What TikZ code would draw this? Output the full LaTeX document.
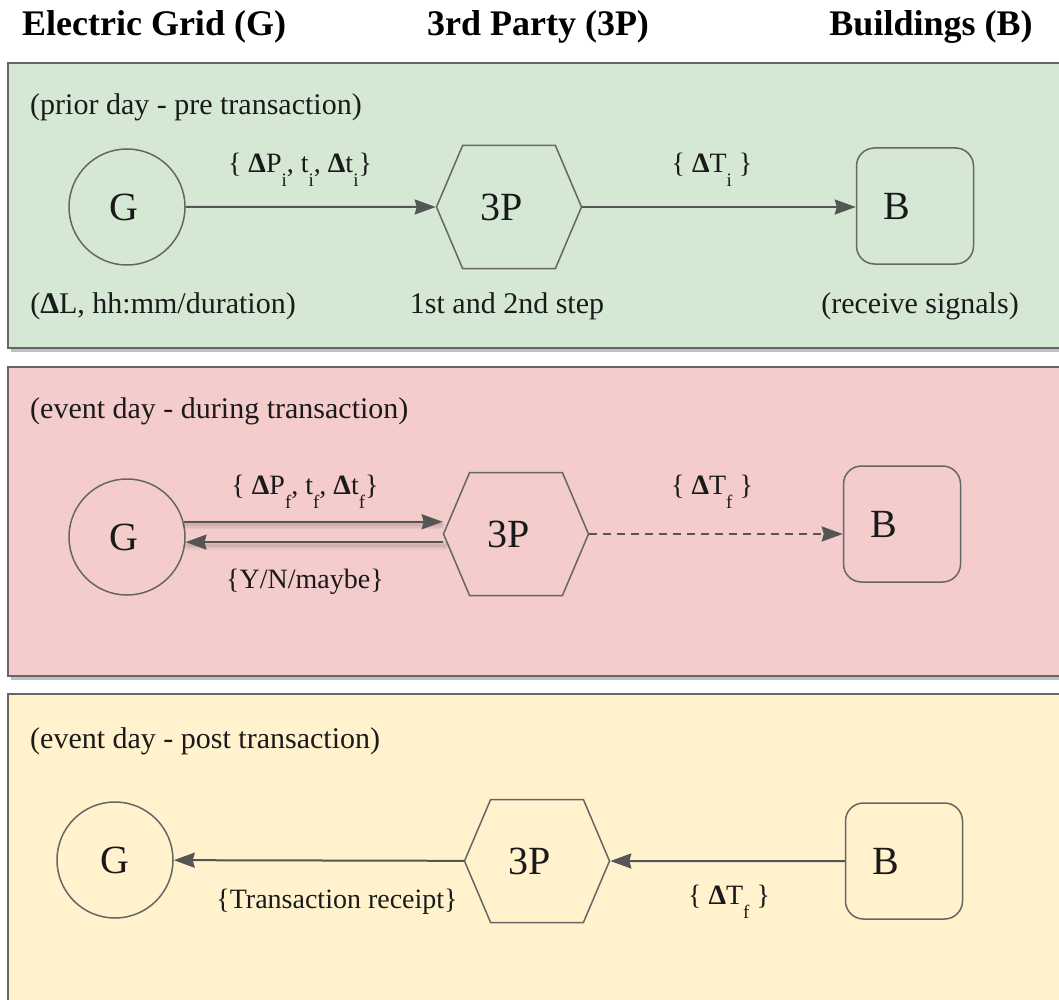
\documentclass[tikz,border=0pt]{standalone}
\usepackage{fontspec}
\setmainfont{LiberationSerif}[Extension=.ttf,UprightFont=*-Regular,BoldFont=*-Bold,ItalicFont=*-Italic,BoldItalicFont=*-BoldItalic]
\usetikzlibrary{arrows.meta,shapes.symbols}
\definecolor{greenfill}{HTML}{D5E8D4}
\definecolor{redfill}{HTML}{F4CCCC}
\definecolor{yellowfill}{HTML}{FFF2CC}
\definecolor{edgegray}{HTML}{666666}
\definecolor{linegray}{HTML}{555555}
\definecolor{txt}{HTML}{1A1A1A}
% lowered subscript and bold delta used in the signal labels
\newcommand{\lowsub}[1]{\raisebox{-1.05ex}{\fontsize{19}{19}\selectfont #1}}
\newcommand{\bDelta}{\textbf{Δ}}
\begin{document}
\begin{tikzpicture}[x=1pt,y=-1pt,
  panel/.style={draw=edgegray,line width=2pt},
  panelshadow/.style={fill=black,opacity=0.25},
  header/.style={font=\fontsize{36}{36}\selectfont\bfseries,text=black,inner sep=0pt},
  body/.style={font=\fontsize{30}{30}\selectfont,text=txt,inner sep=0pt},
  lbl/.style={font=\fontsize{28}{28}\selectfont,text=txt,inner sep=0pt},
  phase/.style={body,anchor=west},
  gnode/.style={circle,draw=edgegray,line width=1.5pt,minimum size=116pt,inner sep=0pt,
    font=\fontsize{40}{40}\selectfont,text=txt},
  pnode/.style={signal,signal to=west and east,signal pointer angle=134,draw=edgegray,
    line width=1.5pt,minimum width=145pt,minimum height=123pt,inner sep=0pt,
    font=\fontsize{40}{40}\selectfont,text=txt},
  bnode/.style={rectangle,rounded corners=18pt,draw=edgegray,line width=1.5pt,
    minimum width=117pt,minimum height=116pt,inner sep=0pt,
    font=\fontsize{40}{40}\selectfont,text=txt},
  conn/.style={draw=linegray,line width=2pt,-{Stealth[length=21pt,width=15pt,inset=2pt]}},
  connshadow/.style={draw=black,line cap=round},
]
\useasboundingbox (0,0) rectangle (1059,1000);

% column headers
\node[header] (hg) at (154,27) {Electric Grid (G)};
\node[header] (hp) at (538,27) {3rd Party (3P)};
\node[header] (hb) at (931,27) {Buildings (B)};

% phase panels
\fill[panelshadow] (11,66) rectangle (1075,352);
\draw[panel,fill=greenfill] (8,63) rectangle (1075,348);
\fill[panelshadow] (11,370) rectangle (1075,680);
\draw[panel,fill=redfill] (8,367) rectangle (1075,676);
\fill[panelshadow] (11,697) rectangle (1075,1020);
\draw[panel,fill=yellowfill] (8,694) rectangle (1075,1020);

% prior day
\node[phase] (t1) at (30,107) {(prior day - pre transaction)};
\node[gnode] (g1) at (127,207) {\kern-6pt G};
\node[pnode] (p1) at (509,207) {\kern-14pt 3P};
\node[bnode] (b1) at (915,206) {\kern-36pt B};
\draw[conn] (g1) -- (p1);
\draw[conn] (p1.east) -- (p1.east -| b1.west);
\node[lbl] (l1) at (300,170) {\{ \bDelta P\lowsub{i}, t\lowsub{i}, \bDelta t\lowsub{i}\}};
\node[lbl] (l2) at (712,170) {\{ \bDelta T\lowsub{i} \}};
\node[body] (c1) at (163,306) {(\bDelta L, hh:mm/duration)};
\node[body] (c2) at (507,306) {1st and 2nd step};
\node[body] (c3) at (920,306) {(receive signals)};

% event day, during
\node[phase] (t2) at (30,411) {(event day - during transaction)};
\node[gnode] (g2) at (127,537) {\kern-6pt G};
\node[pnode] (p2) at (516,534) {\kern-14pt 3P};
\node[bnode] (b2) at (902,524) {\kern-36pt B};
\foreach \w/\o in {9/0.04,6/0.05,3/0.06}{
  \draw[connshadow,line width=\w pt,opacity=\o] ([shift={(2pt,-3pt)}]g2.15) -- ([shift={(-2pt,-3pt)}]p2.west |- g2.15);
  \draw[connshadow,line width=\w pt,opacity=\o] ([shift={(2pt,-3pt)}]p2.west |- g2.-5) -- ([shift={(2pt,-3pt)}]g2.-5);
}
\draw[conn] (g2.15) -- (p2.west |- g2.15);
\draw[conn] (p2.west |- g2.-5) -- (g2.-5);
\draw[conn,dashed,dash pattern=on 8pt off 6pt] (p2.east) -- (p2.east -| b2.west);
\node[lbl] (l3) at (305,492) {\{ \bDelta P\lowsub{f}, t\lowsub{f}, \bDelta t\lowsub{f}\}};
\node[lbl] (l4) at (305,582) {\{Y/N/maybe\}};
\node[lbl] (l5) at (712,492) {\{ \bDelta T\lowsub{f} \}};

% event day, post
\node[phase] (t3) at (30,741) {(event day - post transaction)};
\node[gnode] (g3) at (115,860) {G};
\node[pnode] (p3) at (537,861) {\kern-14pt 3P};
\node[bnode] (b3) at (904,861) {\kern-36pt B};
\draw[conn] (b3) -- (p3);
\draw[conn] (p3) -- (g3);
\node[lbl] (l6) at (337,902) {\{Transaction receipt\}};
\node[lbl] (l7) at (729,902) {\{ \bDelta T\lowsub{f} \}};
\end{tikzpicture}
\end{document}
